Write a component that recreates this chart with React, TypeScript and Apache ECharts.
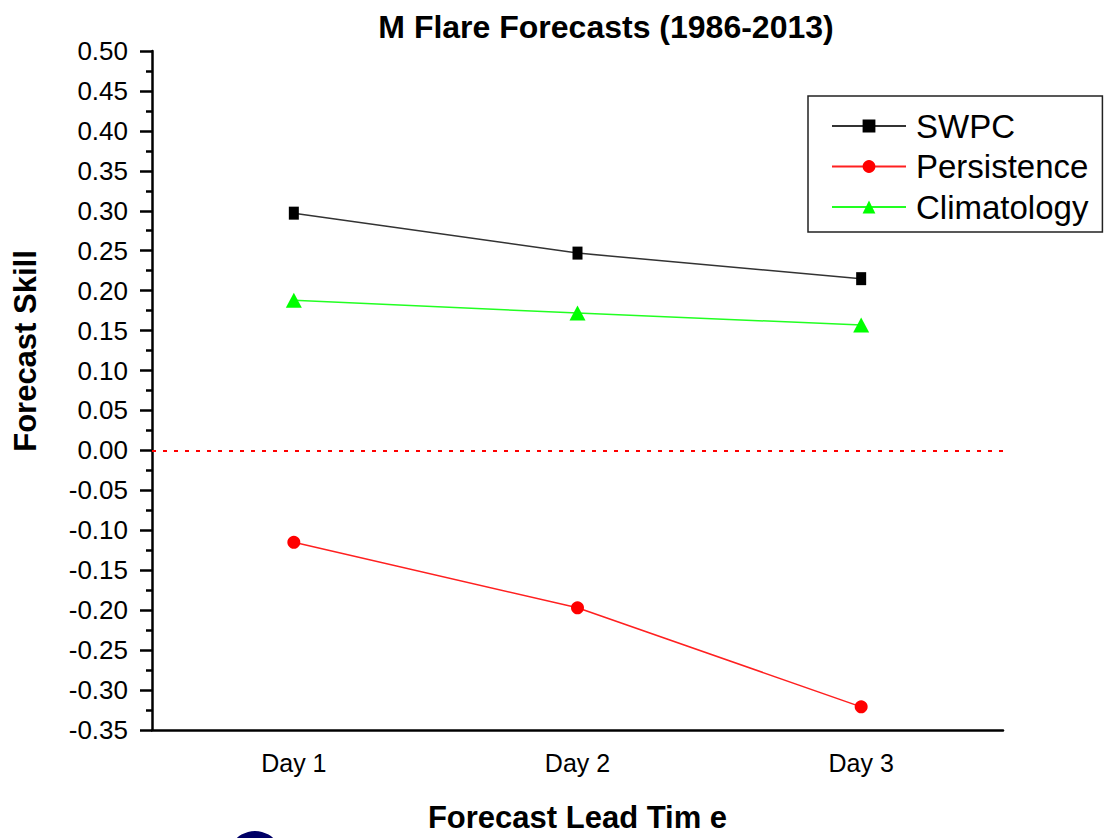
import React, { useEffect, useRef } from "react";
import * as echarts from "echarts";

const categories = ["Day 1", "Day 2", "Day 3"];
const swpc = [0.297, 0.247, 0.215];
const persistence = [-0.115, -0.197, -0.321];
const climatology = [0.188, 0.172, 0.157];
const yMin = -0.35;
const yMax = 0.5;
const yStep = 0.05;

export default function App() {
  const ref = useRef<HTMLDivElement>(null);
  useEffect(() => {
    if (!ref.current) return;
    const chart = echarts.init(ref.current, null, { renderer: "svg" });
    const font = "Arial, 'Liberation Sans', sans-serif";
    chart.setOption({
      animation: false,
      backgroundColor: "#ffffff",
      title: {
        text: "M Flare Forecasts (1986-2013)",
        left: 601,
        top: 6,
        textAlign: "center",
        textStyle: { fontFamily: font, fontSize: 32, fontWeight: "bold", color: "#000" },
      },
      legend: {
        orient: "vertical",
        left: 808,
        top: 96,
        padding: [13, 14, 8, 23],
        borderColor: "#222",
        borderWidth: 1.5,
        borderRadius: 0,
        itemWidth: 74,
        itemHeight: 16,
        itemGap: 6.5,
        textStyle: { fontFamily: font, fontSize: 33, color: "#000", lineHeight: 34, padding: [0, 0, 0, 5] },
        data: ["SWPC", "Persistence", "Climatology"],
      },
      grid: { left: 152, width: 851, top: 51, height: 686, containLabel: false },
      xAxis: {
        type: "category",
        data: categories,
        boundaryGap: true,
        name: "Forecast Lead Tim e",
        nameLocation: "middle",
        nameGap: 72,
        nameTextStyle: { fontFamily: font, fontSize: 31, fontWeight: "bold", color: "#000" },
        axisLine: { onZero: false, lineStyle: { color: "#000", width: 2.5 } },
        axisTick: { alignWithLabel: true, length: 14, lineStyle: { color: "#000", width: 2.5 } },
        axisLabel: { fontFamily: font, fontSize: 25, color: "#000", margin: 20 },
        splitLine: { show: false },
      },
      yAxis: {
        type: "value",
        min: yMin,
        max: yMax,
        interval: yStep,
        axisLine: { show: true, lineStyle: { color: "#000", width: 2.5 } },
        axisTick: { show: true, length: 12, lineStyle: { color: "#000", width: 2.5 } },
        minorTick: { show: true, splitNumber: 2, length: 6, lineStyle: { color: "#000", width: 2.5 } },
        axisLabel: {
          fontFamily: font,
          fontSize: 26,
          color: "#000",
          margin: 24,
          formatter: (v: number) => (Math.abs(v) < 1e-9 ? 0 : v).toFixed(2),
        },
        splitLine: { show: false },
      },
      series: [
        {
          name: "SWPC",
          type: "line",
          data: swpc,
          symbol: "rect",
          symbolSize: [10, 13],
          lineStyle: { color: "#333", width: 1.5 },
          itemStyle: { color: "#000" },
          z: 3,
        },
        {
          name: "Persistence",
          type: "line",
          data: persistence,
          symbol: "circle",
          symbolSize: 13,
          lineStyle: { color: "#ff2020", width: 1.5 },
          itemStyle: { color: "#ff0000" },
          markLine: {
            silent: true,
            symbol: "none",
            label: { show: false },
            lineStyle: { color: "#ff0000", width: 2, type: [4, 7] },
            data: [{ yAxis: 0 }],
          },
          z: 3,
        },
        {
          name: "Climatology",
          type: "line",
          data: climatology,
          symbol: "triangle",
          symbolSize: [16, 15],
          lineStyle: { color: "#22ff22", width: 1.5 },
          itemStyle: { color: "#00ff00" },
          z: 3,
        },
      ],
      graphic: [
        {
          type: "text",
          x: 25,
          y: 351,
          rotation: Math.PI / 2,
          style: {
            text: "Forecast Skill",
            fontFamily: font,
            fontSize: 31,
            fontWeight: "bold",
            fill: "#000",
            align: "center",
            verticalAlign: "middle",
          },
        },
        {
          type: "circle",
          shape: { cx: 255, cy: 858, r: 27 },
          style: { fill: "#000066" },
        },
      ],
    });
    return () => chart.dispose();
  }, []);
  return (
    <div
      ref={ref}
      style={{ position: "fixed", left: 0, top: 0, width: 1104, height: 838, background: "#fff" }}
    />
  );
}
